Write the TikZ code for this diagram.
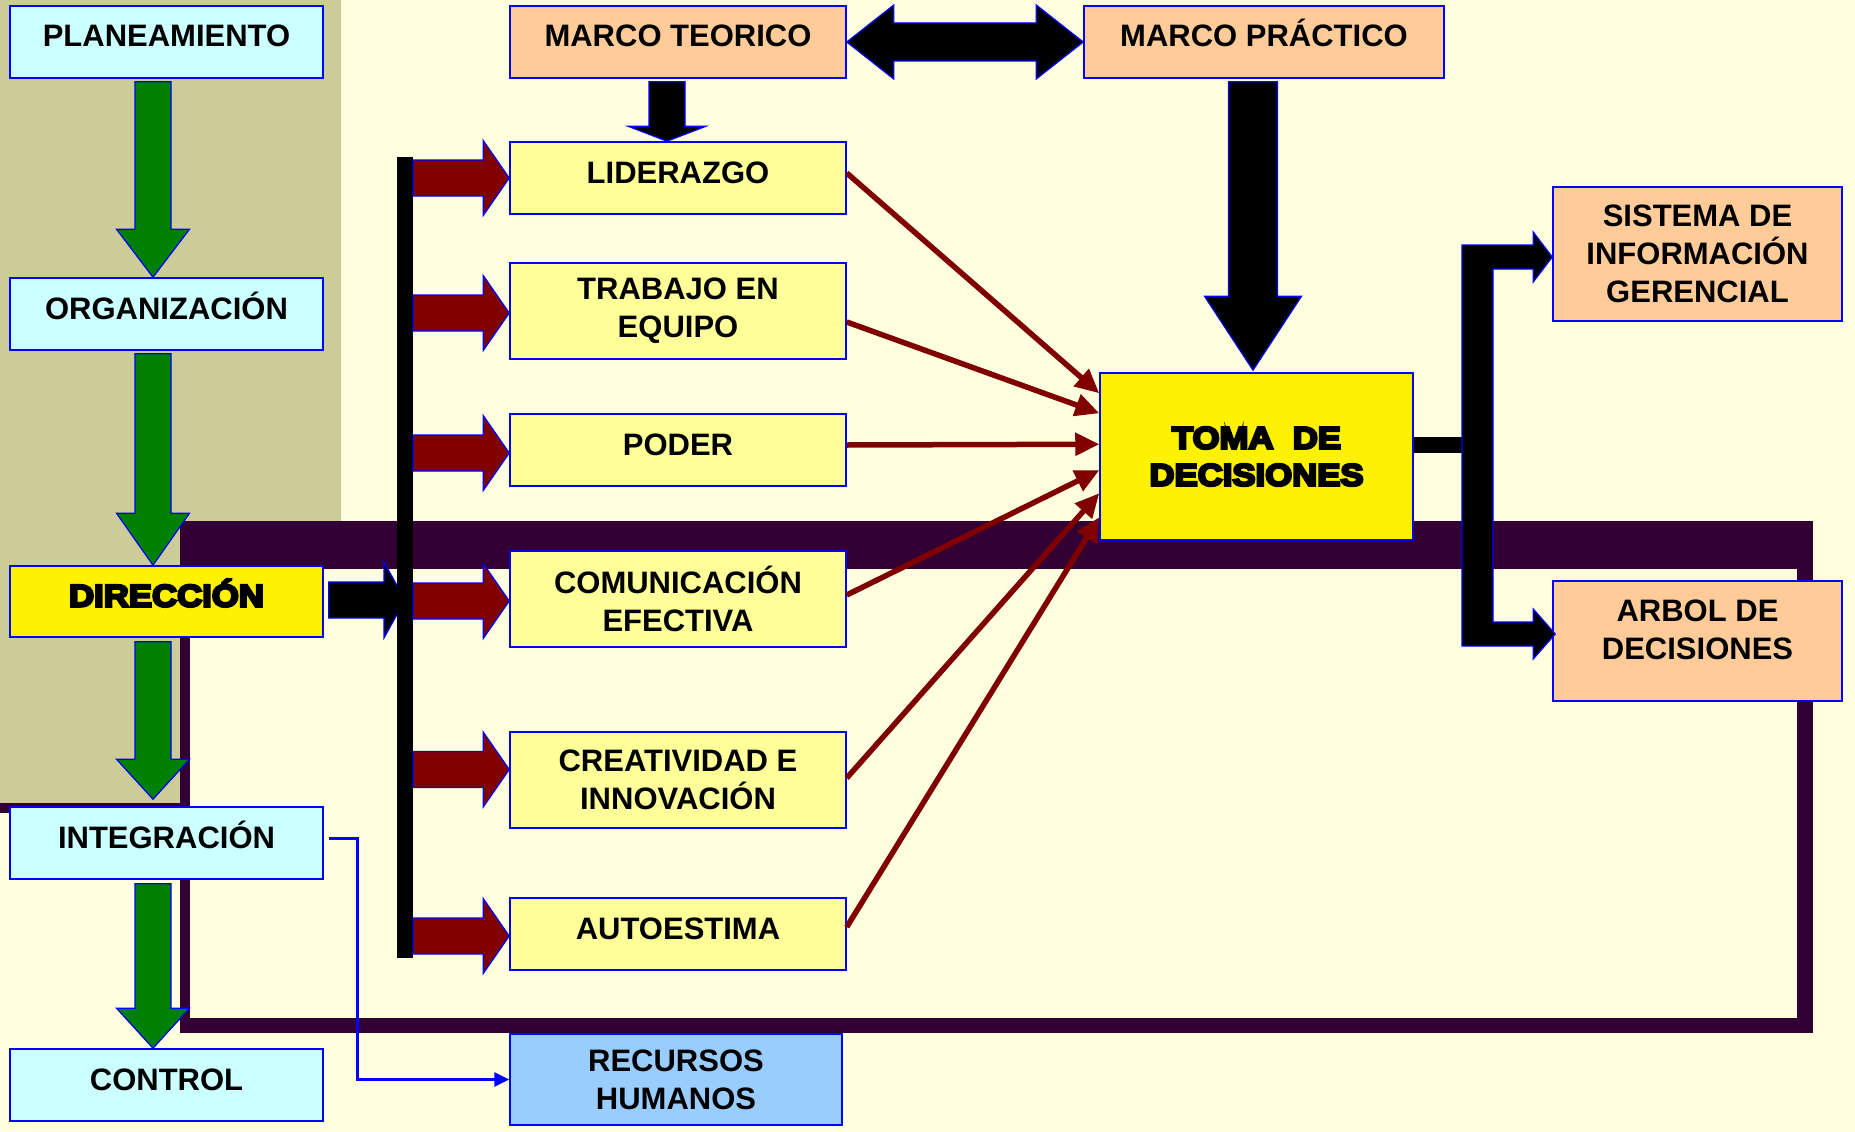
\documentclass[tikz,border=0pt]{standalone}
\usepackage{fontspec}
\setmainfont{Liberation Sans}
\newfontfamily\heavyfont[FakeBold=8,FakeStretch=1.12]{Liberation Sans Bold}
\usetikzlibrary{calc,arrows.meta}
\definecolor{bgcream}{HTML}{FFFFE0}
\definecolor{tan}{HTML}{CCCC99}
\definecolor{framepurple}{HTML}{330033}
\definecolor{cyanbox}{HTML}{CCFFFF}
\definecolor{lyellow}{HTML}{FFFF99}
\definecolor{orangebox}{HTML}{FFCC99}
\definecolor{bluebox}{HTML}{99CCFF}
\definecolor{maroon}{HTML}{800000}
\definecolor{arrgreen}{HTML}{008000}
\definecolor{edgeblue}{HTML}{0000FF}
\newcommand\bx[7]{\node[#6, minimum width={(#4)-(#2)}, minimum height={(#5)-(#3)}] (#1) at ({((#2)+(#4))/2},{((#3)+(#5))/2}) {#7};}
% down block arrow: start (y used), tip, shaft half, head half, head length, style
\newcommand\blockD[6]{\path[#6] let \p1=(#1), \p2=(#2) in
  (\x2-#3pt,\y1) -- (\x2+#3pt,\y1) -- (\x2+#3pt,\y2+#5pt) -- (\x2+#4pt,\y2+#5pt) -- (\x2,\y2) -- (\x2-#4pt,\y2+#5pt) -- (\x2-#3pt,\y2+#5pt) -- cycle;}
% right block arrow: start (x used), tip, shaft half, head half, head length, style
\newcommand\blockR[6]{\path[#6] let \p1=(#1), \p2=(#2) in
  (\x1,\y2+#3pt) -- (\x2-#5pt,\y2+#3pt) -- (\x2-#5pt,\y2+#4pt) -- (\x2,\y2) -- (\x2-#5pt,\y2-#4pt) -- (\x2-#5pt,\y2-#3pt) -- (\x1,\y2-#3pt) -- cycle;}
% double block arrow: left tip, right tip, shaft half, head half, head length, style
\newcommand\blockLR[6]{\path[#6] let \p1=(#1), \p2=(#2) in
  (\x1,\y1) -- (\x1+#5pt,\y1+#4pt) -- (\x1+#5pt,\y1+#3pt) -- (\x2-#5pt,\y1+#3pt) -- (\x2-#5pt,\y1+#4pt) -- (\x2,\y1) -- (\x2-#5pt,\y1-#4pt) -- (\x2-#5pt,\y1-#3pt) -- (\x1+#5pt,\y1-#3pt) -- (\x1+#5pt,\y1-#4pt) -- cycle;}
\tikzset{
  box/.style={draw=edgeblue, line width=1.5pt, inner sep=0pt, font=\bfseries\fontsize{31}{38}\selectfont},
  cbox/.style={box, fill=cyanbox},
  ybox/.style={box, fill=yellow},
  lbox/.style={box, fill=lyellow},
  obox/.style={box, fill=orangebox},
  rbox/.style={box, fill=bluebox},
  oneline/.style={text height=22pt, text depth=12pt},
  ml/.style={align=center},
  heavy/.style={font=\heavyfont\fontsize{31}{37}\selectfont},
  greenarr/.style={fill=arrgreen, draw=edgeblue, line width=1.2pt},
  blackarr/.style={fill=black, draw=edgeblue, line width=1.2pt},
  maroonarr/.style={fill=maroon, draw=edgeblue, line width=1.2pt},
  thinred/.style={draw=maroon, line width=5.5pt, -{Triangle[length=24pt,width=22pt]}},
  blueconn/.style={draw=edgeblue, line width=3pt, -{Triangle[length=15pt,width=14pt]}},
}
\begin{document}
\begin{tikzpicture}[x=1pt,y=-1pt]
\useasboundingbox (0,0) rectangle (1855,1132);
\fill[bgcream] (0,0) rectangle (1855,1132);
\fill[tan] (0,0) rectangle (341,803);
\fill[framepurple] (0,803) rectangle (190,813);
\fill[framepurple] (180,521) rectangle (1813,1033);
\fill[bgcream] (190,569) rectangle (1797,1018);

% left column
\bx{plan}{10}{6}{323}{78}{cbox,oneline}{PLANEAMIENTO}
\bx{org}{10}{278}{323}{350}{cbox,oneline}{ORGANIZACIÓN}
\bx{dir}{10}{566}{323}{637}{ybox,oneline,heavy}{DIRECCIÓN}
\bx{int}{10}{807}{323}{879}{cbox,oneline}{INTEGRACIÓN}
\bx{con}{10}{1049}{323}{1121}{cbox,oneline}{CONTROL}

% middle column
\bx{teo}{510}{6}{846}{78}{obox,oneline}{MARCO TEORICO}
\bx{pra}{1084}{6}{1444}{78}{obox,oneline}{MARCO PRÁCTICO}
\bx{lid}{510}{142}{846}{214}{lbox,oneline}{LIDERAZGO}
\bx{tra}{510}{263}{846}{359}{lbox,ml}{TRABAJO EN\\EQUIPO}
\bx{pod}{510}{414}{846}{486}{lbox,oneline}{PODER}
\bx{com}{510}{551}{846}{647}{lbox,ml}{COMUNICACIÓN\\EFECTIVA}
\bx{crea}{510}{732}{846}{828}{lbox,ml}{CREATIVIDAD E\\INNOVACIÓN}
\bx{auto}{510}{898}{846}{970}{lbox,oneline}{AUTOESTIMA}
\bx{rec}{510}{1034}{842}{1125}{rbox,ml}{RECURSOS\\HUMANOS}

% right side
\bx{toma}{1100}{373}{1413}{540}{ybox,ml,heavy}{TOMA\ \ DE\\DECISIONES}
\bx{sis}{1553}{187}{1842}{321}{obox,ml}{SISTEMA DE\\INFORMACIÓN\\GERENCIAL}
\bx{arb}{1553}{581}{1842}{701}{obox,ml}{ARBOL DE\\DECISIONES\\[-16pt]\mbox{}}

% green arrows
\blockD{$(plan.south)+(-13.5,3)$}{$(org.north)+(-13.5,0)$}{18}{36.5}{48}{greenarr}
\blockD{$(org.south)+(-13.5,3)$}{$(dir.north)+(-13.5,0)$}{18}{36.5}{52}{greenarr}
\blockD{$(dir.south)+(-13.5,4)$}{$(int.north)+(-13.5,-7)$}{18}{36.5}{40}{greenarr}
\blockD{$(int.south)+(-13.5,4)$}{$(con.north)+(-13.5,0)$}{18}{36.5}{40}{greenarr}

% black arrows from the frames
\blockD{$(teo.south)+(-11,3)$}{$(lid.north)+(-11,0)$}{18}{39}{15}{blackarr}
\blockD{$(pra.south)+(-3.5,3)$}{$(toma.north)+(-3.5,-2)$}{24.5}{48.5}{74}{blackarr}
\blockLR{teo.east}{pra.west}{19}{37}{47}{blackarr}

% vertical bar and arrows
\node[minimum width=16, minimum height=801, inner sep=0pt] (bar) at (405,557.5) {};
\blockR{$(dir.east)+(5,0)$}{$(dir.east -| bar.center)+(0,-1.5)$}{18}{38}{21}{blackarr}
\fill[black] (bar.north west) rectangle (bar.south east);
\blockR{bar.east}{lid.west}{18}{37.5}{26}{maroonarr}
\blockR{bar.east}{$(tra.west)+(0,2)$}{18}{37.5}{26}{maroonarr}
\blockR{bar.east}{$(pod.west)+(0,3)$}{18}{37.5}{26}{maroonarr}
\blockR{bar.east}{$(com.west)+(0,2)$}{18}{37.5}{26}{maroonarr}
\blockR{bar.east}{$(crea.west)+(0,-10.5)$}{18}{37.5}{26}{maroonarr}
\blockR{bar.east}{$(auto.west)+(0,2)$}{18}{37.5}{26}{maroonarr}

% thin maroon arrows into TOMA DE DECISIONES
\draw[thinred] ($(lid.east)+(0,-5)$) -- ($(toma.north west)+(0,21)$);
\draw[thinred] ($(tra.east)+(0,11)$) -- ($(toma.north west)+(0,41)$);
\draw[thinred] ($(pod.east)+(0,-5)$) -- ($(toma.north west)+(0,72)$);
\draw[thinred] ($(com.east)+(0,-4)$) -- ($(toma.north west)+(0,98)$);
\draw[thinred] ($(crea.east)+(0,-2)$) -- ($(toma.north west)+(0,121)$);
\draw[thinred] ($(auto.east)+(0,-7)$) -- ($(toma.north west)+(0,145)$);

% TOMA DE DECISIONES to the two outputs
\coordinate (brk) at (1462,0);
\draw[black, line width=16pt] ($(toma.east)+(0,-12)$) coordinate (tl) -- (tl -| brk);
\path[blackarr] let \p1=($(sis.west)+(0,3)$), \p2=($(arb.west)+(3,-7)$), \p3=(brk) in
  (\x3,\y1+12pt) -- (\x1-19pt,\y1+12pt) -- (\x1-19pt,\y1+25pt) -- (\x1,\y1) -- (\x1-19pt,\y1-25pt) -- (\x1-19pt,\y1-12pt) --
  (\x3+31pt,\y1-12pt) -- (\x3+31pt,\y2+12pt) -- (\x2-22pt,\y2+12pt) -- (\x2-22pt,\y2+25pt) -- (\x2,\y2) --
  (\x2-22pt,\y2-25pt) -- (\x2-22pt,\y2-12pt) -- (\x3,\y2-12pt) -- cycle;

% INTEGRACION to RECURSOS HUMANOS
\draw[blueconn] ($(int.east)+(5,-5)$) -- ++(29,0) |- (rec.west);
\end{tikzpicture}
\end{document}
